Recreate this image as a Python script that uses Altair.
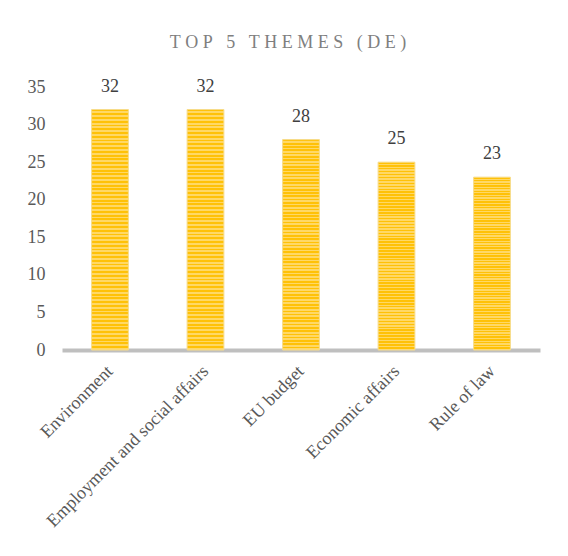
import altair as alt
import pandas as pd

themes = ["Environment", "Employment and social affairs", "EU budget", "Economic affairs", "Rule of law"]
counts = [32, 32, 28, 25, 23]
y_ticks = [0, 5, 10, 15, 20, 25, 30, 35]

df = pd.DataFrame({"theme": themes, "count": counts})

FONT = "Liberation Serif"

# horizontal stripe fill (style only)
stops = []
n_stripes = 64
for i in range(n_stripes):
    a = i / n_stripes
    b = (i + 0.5) / n_stripes
    stops.append(alt.GradientStop(color="#FFC107", offset=a))
    stops.append(alt.GradientStop(color="#FFC107", offset=b))
    stops.append(alt.GradientStop(color="#FFD865", offset=b))
    stops.append(alt.GradientStop(color="#FFD865", offset=(i + 1) / n_stripes))

x_enc = alt.X("theme:N", sort=themes,
              scale=alt.Scale(paddingInner=0.615, paddingOuter=0.31),
              axis=alt.Axis(title=None, labelAngle=-45, labelFont=FONT, labelFontSize=18,
                            labelColor="#595959", ticks=False, domainColor="#bfbfbf",
                            domainWidth=4, labelPadding=12, labelOffset=-6, labelLimit=400))
y_enc = alt.Y("count:Q", scale=alt.Scale(domain=[0, 35], nice=False),
              axis=alt.Axis(title=None, values=y_ticks, grid=False, domain=False, ticks=False,
                            labelFont=FONT, labelFontSize=18, labelColor="#595959",
                            labelPadding=17, labelOverlap=False))

base = alt.Chart(df).encode(x=x_enc, y=y_enc)

bars = base.mark_bar(
    color=alt.Gradient(gradient="linear", x1=0, x2=0, y1=0, y2=1, stops=stops),
    stroke="#F7DC8A", strokeWidth=1,
)

labels = base.mark_text(
    font=FONT, fontSize=18, color="#404040", baseline="bottom", dy=-14
).encode(text="count:Q")

title_text = "\u00a0".join("TOP 5 THEMES (DE)").replace("\u00a0 \u00a0", "\u00a0\u00a0\u00a0")

chart = (bars + labels).properties(
    width=478, height=263,
    title=alt.TitleParams(title_text, font=FONT, fontSize=18,
                          fontWeight="normal", color="#7f7f7f", offset=26, dx=-13),
    autosize=alt.AutoSizeParams(type="none"),
    padding={"left": 54, "top": 79, "right": 18, "bottom": 200},
).configure_view(stroke=None)

chart.save("out.html", embed_options={"renderer": "svg", "actions": False})
